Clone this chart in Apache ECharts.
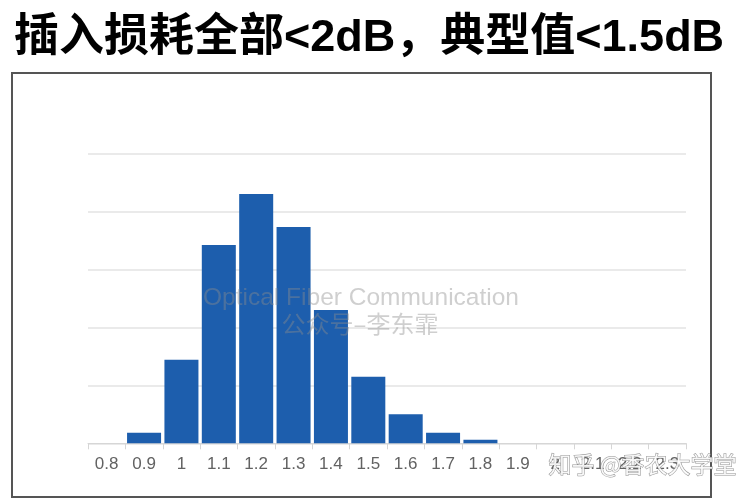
<!DOCTYPE html>
<html>
<head>
<meta charset="utf-8">
<script src="https://cdn.jsdelivr.net/npm/echarts@6/dist/echarts.min.js"></script>
<style>
html,body{margin:0;padding:0;background:#fff;}
#c{width:754px;height:500px;}
</style>
</head>
<body>
<div id="c"></div>
<script>
const titleText = '插入损耗全部<2dB，典型值<1.5dB';
const categories = ['0.8','0.9','1','1.1','1.2','1.3','1.4','1.5','1.6','1.7','1.8','1.9','2','2.1','2.2','2.3'];
const values = [0, 0.18, 1.44, 3.42, 4.30, 3.73, 2.30, 1.15, 0.50, 0.18, 0.06, 0, 0, 0, 0, 0];
const yMax = 5;
const yInterval = 1;
const watermark1 = 'Optical Fiber Communication';
const watermark2 = '公众号–李东霏';
const zhihuMark = '知乎 @香农大学堂';

const chart = echarts.init(document.getElementById('c'), null, {renderer: 'canvas'});
chart.setOption({
  animation: false,
  backgroundColor: '#fff',
  title: {
    text: titleText,
    left: 9,
    top: 11,
    textStyle: {
      fontFamily: 'Liberation Sans, Noto Sans CJK SC, sans-serif',
      fontWeight: 'bold',
      fontSize: 45,
      color: '#000'
    }
  },
  grid: {left: 88, right: 68, top: 153.5, bottom: 56.7, containLabel: false},
  xAxis: {
    type: 'category',
    data: categories,
    boundaryGap: true,
    axisLine: {lineStyle: {color: '#d6d6d6', width: 1}},
    axisTick: {show: true, length: 6, lineStyle: {color: '#d6d6d6'}},
    axisLabel: {
      interval: 0,
      margin: 13,
      fontSize: 17,
      color: '#626262',
      fontFamily: 'Liberation Sans, sans-serif'
    }
  },
  yAxis: {
    type: 'value',
    min: 0,
    max: yMax,
    interval: yInterval,
    axisLabel: {show: false},
    axisLine: {show: false},
    axisTick: {show: false},
    splitLine: {lineStyle: {color: '#e3e3e3', width: 1.5}}
  },
  series: [{
    type: 'bar',
    data: values,
    barCategoryGap: '9%',
    itemStyle: {color: '#1d5ead'}
  }],
  graphic: [
    {
      type: 'rect', z: 100, silent: true,
      shape: {x: 12, y: 73, width: 699, height: 424},
      style: {fill: 'none', stroke: '#555', lineWidth: 2}
    },
    {
      type: 'text', z: 100, silent: true,
      x: 361, y: 298,
      style: {text: watermark1, fill: 'rgba(140,140,140,0.42)', font: '24.5px Liberation Sans, sans-serif', textAlign: 'center', textVerticalAlign: 'middle'}
    },
    {
      type: 'text', z: 100, silent: true,
      x: 360, y: 324,
      style: {text: watermark2, fill: 'rgba(140,140,140,0.42)', font: '24px Noto Sans CJK SC, sans-serif', textAlign: 'center', textVerticalAlign: 'middle'}
    },
    {
      type: 'text', z: 100, silent: true,
      left: 548, top: 452,
      style: {text: zhihuMark, fill: 'rgba(255,255,255,0.85)', stroke: 'rgba(120,120,120,0.8)', lineWidth: 1, font: '23px Noto Sans CJK SC, sans-serif'}
    }
  ]
});
</script>
</body>
</html>
